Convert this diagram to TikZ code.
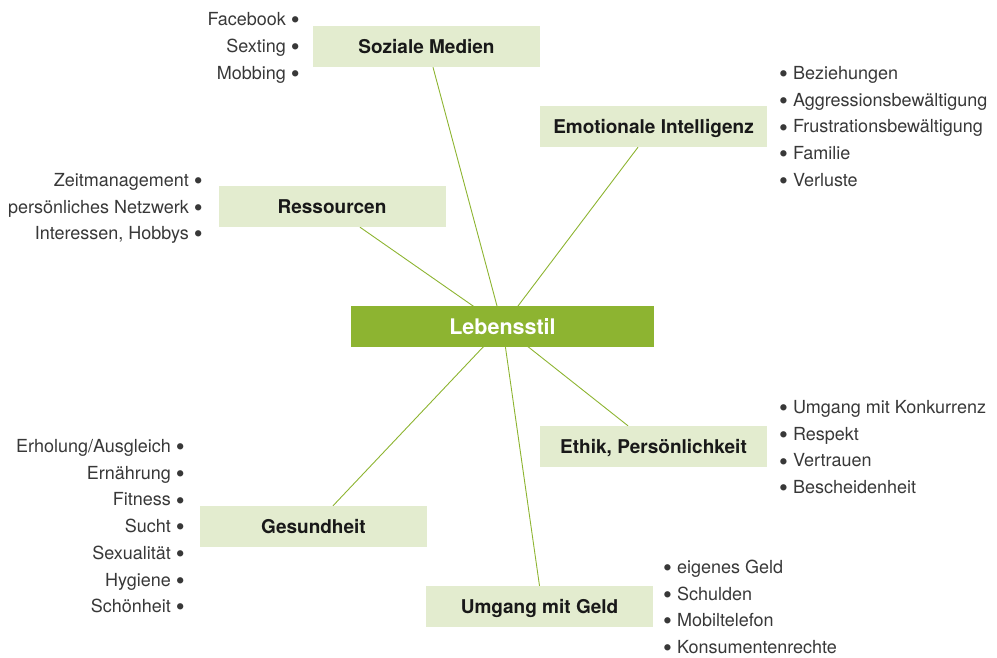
\documentclass[tikz,border=0pt]{standalone}
\usepackage{fontspec}
\setmainfont{TeX Gyre Heros}
\usepackage{graphicx}
\usepackage{tikz}
\usetikzlibrary{backgrounds}
\definecolor{stilgreen}{HTML}{8DB431}
\definecolor{boxgreen}{HTML}{E3ECCF}
\definecolor{itemgray}{HTML}{383838}
\newcommand{\blt}{\raisebox{-3.2pt}{\scalebox{1.4}{\textbullet}}}

\begin{document}
\begin{tikzpicture}[x=1pt,y=-1pt,inner sep=0pt]
  \tikzstyle{topic}=[fill=boxgreen,minimum width=227pt,minimum height=41pt,
                     text=black!90,font=\fontsize{19}{19}\selectfont\bfseries,
                     text height=13.7pt,text depth=0pt]
  \tikzstyle{lst}=[text=itemgray,font=\fontsize{18}{18}\selectfont,
                   text height=13pt,text depth=0pt]
  \tikzstyle{spoke}=[draw=stilgreen,line width=0.9pt]

  \useasboundingbox (0,0) rectangle (997,657);

  \node[fill=stilgreen,minimum width=303pt,minimum height=41pt,text=white,
        font=\fontsize{21.5}{21.5}\selectfont\bfseries,
        text height=15.5pt,text depth=0pt] (stil) at (502.5,326.5) {Lebensstil};

  \node[topic] (medien) at (426.5,46.5)  {Soziale Medien};
  \node[topic] (emo)    at (653.5,126.5) {Emotionale Intelligenz};
  \node[topic] (res)    at (332,206.5)   {Ressourcen};
  \node[topic] (ges)    at (313.5,526.5) {Gesundheit};
  \node[topic] (geld)   at (539.5,606.5) {Umgang mit Geld};
  \node[topic] (ethik)  at (653.5,446.5) {Ethik, Persönlichkeit};

  % spokes
  \begin{scope}[on background layer]
    \path[spoke] (stil.center) -- ([xshift=6.5pt]medien.south);
    \path[spoke] (stil.center) -- ([xshift=-15.5pt]emo.south);
    \path[spoke] (stil.center) -- ([xshift=28pt]res.south);
    \path[spoke] (stil.center) -- ([xshift=19.5pt]ges.north);
    \path[spoke] (stil.center) -- (geld.north);
    \path[spoke] (stil.center) -- ([xshift=-25.5pt]ethik.north);
  \end{scope}

  % lists
  \foreach \t [count=\i] in {Facebook,Sexting,Mobbing}
    \node[lst,anchor=east] (medien-\i) at (300,{19+(\i-1)*27}) {\t\ \blt};
  \foreach \t [count=\i] in {Beziehungen,Aggressionsbewältigung,
                             Frustrationsbewältigung,Familie,Verluste}
    \node[lst,anchor=west] (emo-\i) at (779,{73+(\i-1)*26.7}) {\blt\ \t};
  \foreach \t [count=\i] in {Zeitmanagement,persönliches Netzwerk,{Interessen, Hobbys}}
    \node[lst,anchor=east] (res-\i) at (203,{180+(\i-1)*26.5}) {\t\ \blt};
  \foreach \t [count=\i] in {Erholung/Ausgleich,Ernährung,Fitness,Sucht,
                             Sexualität,Hygiene,Schönheit}
    \node[lst,anchor=east] (ges-\i) at (185,{446+(\i-1)*26.7}) {\t\ \blt};
  \foreach \t [count=\i] in {eigenes Geld,Schulden,Mobiltelefon,Konsumentenrechte}
    \node[lst,anchor=west] (geld-\i) at (663,{567+(\i-1)*26.5}) {\blt\ \t};
  \foreach \t [count=\i] in {Umgang mit Konkurrenz,Respekt,Vertrauen,Bescheidenheit}
    \node[lst,anchor=west] (ethik-\i) at (779,{407+(\i-1)*26.7}) {\blt\ \t};

\end{tikzpicture}
\end{document}
